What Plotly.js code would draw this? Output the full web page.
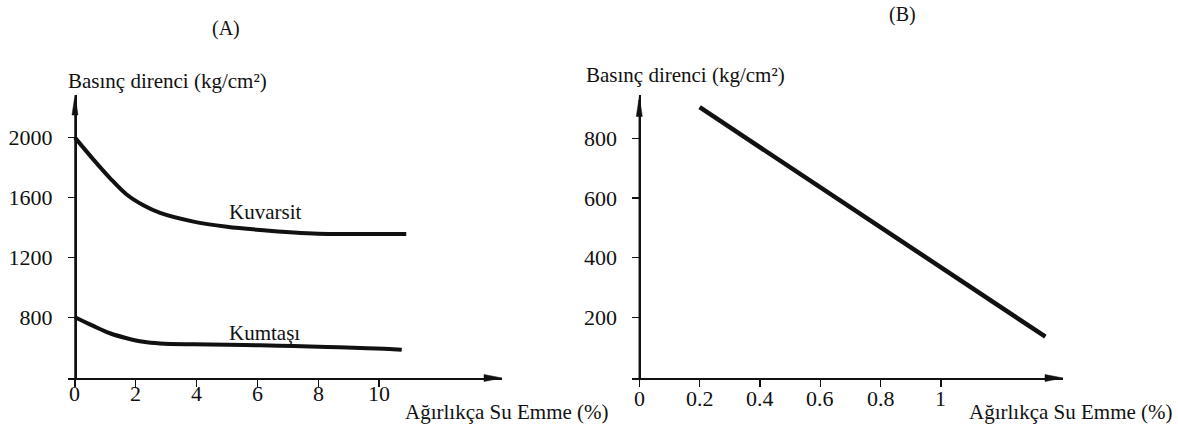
<!DOCTYPE html>
<html>
<head>
<meta charset="utf-8">
<script src="https://cdn.plot.ly/plotly-3.0.1.min.js"></script>
<style>html,body{margin:0;padding:0;background:#fff;}#chart{width:1178px;height:435px;}</style>
</head>
<body>
<div id="chart"></div>
<script>
// ---- Data (A) ----
const waterA = [0, 0.6, 1.15, 1.7, 2.25, 2.8, 3.9, 5, 6.1, 7.2, 8, 9, 10, 10.9];
const kuvarsit = [2000, 1855, 1730, 1620, 1548, 1497, 1439, 1405, 1383, 1366, 1358, 1356, 1356, 1356];
const waterA2 = [0, 0.6, 1.15, 1.7, 2.25, 2.8, 3.9, 5, 6.1, 7.2, 8.3, 9.4, 10.47, 10.75];
const kumtasi = [800, 742, 693, 660, 636, 625, 619, 616, 613, 607, 601, 594, 586, 582];
const xTicksA = [0, 2, 4, 6, 8, 10];
const xTickTextA = ["0", "2", "4", "6", "8", "10"];
const yTicksA = [800, 1200, 1600, 2000];
// ---- Data (B) ----
const waterB = [0.2, 1.346];
const strengthB = [904, 135];
const xTicksB = [0, 0.2, 0.4, 0.6, 0.8, 1];
const xTickTextB = ["0", "0.2", "0.4", "0.6", "0.8", "1"];
const yTicksB = [200, 400, 600, 800];
// ---- Texts ----
const yTitle = "Basınç direnci (kg/cm²)";
const xTitle = "Ağırlıkça Su Emme (%)";
const seriesNames = ["Kuvarsit", "Kumtaşı"];

const W = 1178, H = 435;
const px = v => v / W;
const py = v => 1 - v / H;
const FONT = "Liberation Serif";
const INK = "#111";

const yDom = [py(378), py(95)];

const axisCommon = {
  showgrid: false, zeroline: false, showline: true, linecolor: INK, linewidth: 1.5,
  ticks: "outside", ticklen: 7, tickwidth: 1.2, tickcolor: INK,
  tickfont: {family: FONT, size: 22, color: INK}, fixedrange: true
};

const traces = [
  {x: waterA, y: kuvarsit, mode: "lines", line: {color: INK, width: 4, shape: "spline", smoothing: 1}, xaxis: "x", yaxis: "y", name: seriesNames[0]},
  {x: waterA2, y: kumtasi, mode: "lines", line: {color: INK, width: 4, shape: "spline", smoothing: 1}, xaxis: "x", yaxis: "y", name: seriesNames[1]},
  {x: waterB, y: strengthB, mode: "lines", line: {color: INK, width: 4.5}, xaxis: "x2", yaxis: "y2"}
];

function arrowX(tipX, yPix) {
  return {type: "path", xref: "paper", yref: "paper",
    path: `M${px(tipX)},${py(yPix)} L${px(tipX - 18)},${py(yPix - 3.5)} L${px(tipX - 18)},${py(yPix + 3.5)} Z`,
    fillcolor: INK, line: {color: INK, width: 0.5}};
}
function arrowY(xPix, tipY) {
  return {type: "path", xref: "paper", yref: "paper",
    path: `M${px(xPix)},${py(tipY)} L${px(xPix - 3)},${py(tipY + 20)} L${px(xPix + 3)},${py(tipY + 20)} Z`,
    fillcolor: INK, line: {color: INK, width: 0.5}};
}
function label(text, x, y, size, xanchor) {
  return {text: text, xref: "paper", yref: "paper", x: px(x), y: py(y), xanchor: xanchor || "center", yanchor: "middle",
    showarrow: false, font: {size: size, family: FONT, color: INK}};
}
function tickLabels(vals, texts, xref, yPix) {
  return vals.map((v, i) => ({text: texts[i], xref: xref, yref: "paper", x: v, y: py(yPix), xanchor: "center", yanchor: "middle",
    showarrow: false, font: {size: 22, family: FONT, color: INK}}));
}

const layout = {
  width: W, height: H,
  margin: {l: 0, r: 0, t: 0, b: 0},
  paper_bgcolor: "#fff", plot_bgcolor: "rgba(0,0,0,0)",
  showlegend: false,
  font: {family: FONT, color: INK},
  xaxis: Object.assign({}, axisCommon, {domain: [px(68), px(502)], range: [-0.23, 14.05], tickvals: xTicksA, showticklabels: false, anchor: "y"}),
  yaxis: Object.assign({}, axisCommon, {domain: yDom, range: [394, 2285], tickvals: yTicksA, anchor: "free", position: px(75), ticklabelstandoff: 11}),
  xaxis2: Object.assign({}, axisCommon, {domain: [px(632), px(1063)], range: [-0.0242, 1.4044], tickvals: xTicksB, showticklabels: false, anchor: "y2"}),
  yaxis2: Object.assign({}, axisCommon, {domain: yDom, range: [-3.5, 945], tickvals: yTicksB, anchor: "free", position: px(639.3), ticklabelstandoff: 11}),
  shapes: [
    {type: "line", xref: "paper", yref: "paper", x0: px(75), x1: px(75), y0: py(378), y1: py(100), line: {color: INK, width: 1.5}},
    {type: "line", xref: "paper", yref: "paper", x0: px(639.3), x1: px(639.3), y0: py(378), y1: py(100), line: {color: INK, width: 1.5}},
    arrowX(502, 378), arrowY(75, 95),
    arrowX(1063, 378), arrowY(639.3, 96.5)
  ],
  annotations: [
    label("(A)", 226, 28, 20),
    label("(B)", 902, 15, 20),
    label(yTitle, 66, 81, 21, "left"),
    label(yTitle, 584, 75, 21, "left"),
    label(xTitle, 403, 412, 21, "left"),
    label(xTitle, 967, 412, 21, "left"),
    {text: seriesNames[0], xref: "x", yref: "y", x: 6.25, y: 1503, xanchor: "center", yanchor: "middle", showarrow: false, font: {size: 21, family: FONT, color: INK}},
    {text: seriesNames[1], xref: "x", yref: "y", x: 6.23, y: 695, xanchor: "center", yanchor: "middle", showarrow: false, font: {size: 21, family: FONT, color: INK}}
  ].concat(tickLabels(xTicksA, xTickTextA, "x", 393), tickLabels(xTicksB, xTickTextB, "x2", 398))
};

Plotly.newPlot("chart", traces, layout, {displayModeBar: false, staticPlot: true});
</script>
</body>
</html>
